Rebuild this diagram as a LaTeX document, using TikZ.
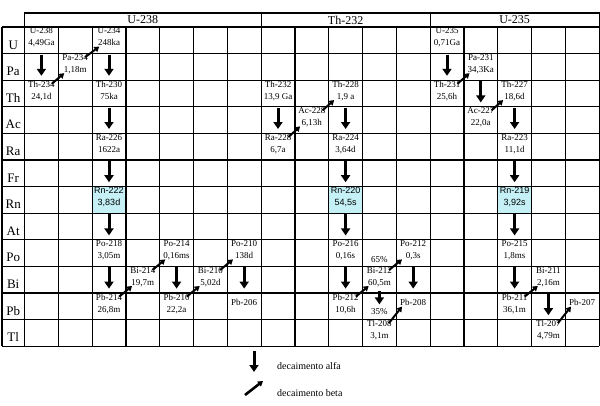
\documentclass[tikz,border=0pt]{standalone}
\usepackage{fontspec}
\setmainfont{Liberation Serif}
\newfontfamily\rnfont{Liberation Sans}
\usetikzlibrary{arrows.meta}
\definecolor{rnfill}{RGB}{196,240,246}

\begin{document}
\begin{tikzpicture}[x=1pt,y=-1pt,
	gridline/.style={line width=1.2pt},
	iso/.style={font=\fontsize{9}{12}\selectfont, align=center, inner sep=0pt, anchor=north, execute at begin node=\strut, execute at end node=\strut},
	rn/.style={iso, font=\rnfont\fontsize{9}{12}\selectfont},
	elem/.style={font=\fontsize{13}{15}\selectfont, anchor=base, inner sep=0pt},
	head/.style={font=\fontsize{12}{14}\selectfont, inner sep=0pt},
	adecay/.style={line width=3pt, -{Triangle[length=7pt,width=9pt]}, shorten <=5pt, shorten >=5pt},
	bdecay/.style={line width=2pt, -{Triangle[length=5pt,width=6pt]}},
	legtext/.style={font=\fontsize{10}{12}\selectfont, anchor=west, inner sep=0pt}]
		\useasboundingbox (0,0) rectangle (600,405);

		% radon cells
		\fill[rnfill] (92.1,186.6) rectangle (125.9,213.2);
		\fill[rnfill] (328.7,186.6) rectangle (362.5,213.2);
		\fill[rnfill] (497.7,186.6) rectangle (531.5,213.2);

		% table
		\foreach \i in {0,...,17}
			\draw[gridline] ({24.5+33.8*\i},27) -- ({24.5+33.8*\i},346.2);
		\foreach \j in {0,...,12}
			\draw[gridline] (2,{27+26.6*\j}) -- (599.1,{27+26.6*\j});
		\draw[gridline] (2,27) -- (2,346.2);
		\draw[gridline] (24.5,27) -- (24.5,13) -- (599.1,13) -- (599.1,27);
		\draw[gridline] (261.1,13) -- (261.1,27);
		\draw[gridline] (430.1,13) -- (430.1,27);

		\node[head] (hU238) at (142.8,20) {U-238};
		\node[head] (hTh232) at (345.6,20) {Th-232};
		\node[head] (hU235) at (514.6,20) {U-235};

		\node[elem] (eU) at (13.2,49) {U};
		\node[elem] (ePa) at (13.2,75.6) {Pa};
		\node[elem] (eTh) at (13.2,102.2) {Th};
		\node[elem] (eAc) at (13.2,128.8) {Ac};
		\node[elem] (eRa) at (13.2,155.4) {Ra};
		\node[elem] (eFr) at (13.2,182) {Fr};
		\node[elem] (eRn) at (13.2,208.6) {Rn};
		\node[elem] (eAt) at (13.2,235.2) {At};
		\node[elem] (ePo) at (13.2,261.8) {Po};
		\node[elem] (eBi) at (13.2,288.4) {Bi};
		\node[elem] (ePb) at (13.2,315) {Pb};
		\node[elem] (eTl) at (13.2,341.6) {Tl};

		% U-238 series
		\node[iso] (U238) at (41.4,27.6) {U-238\\4,49Ga};
		\node[iso] (Th234) at (41.4,80.8) {Th-234\\24,1d};
		\node[iso] (Pa234) at (75.2,54.2) {Pa-234\\1,18m};
		\node[iso] (U234) at (109,27.6) {U-234\\248ka};
		\node[iso] (Th230) at (109,80.8) {Th-230\\75ka};
		\node[iso] (Ra226) at (109,134) {Ra-226\\1622a};
		\node[rn] (Rn222) at (109,187.2) {Rn-222\\3,83d};
		\node[iso] (Po218) at (109,240.4) {Po-218\\3,05m};
		\node[iso] (Pb214) at (109,293.6) {Pb-214\\26,8m};
		\node[iso] (Bi214) at (142.8,267) {Bi-214\\19,7m};
		\node[iso] (Po214) at (176.6,240.4) {Po-214\\0,16ms};
		\node[iso] (Pb210) at (176.6,293.6) {Pb-210\\22,2a};
		\node[iso] (Bi210) at (210.4,267) {Bi-210\\5,02d};
		\node[iso] (Po210) at (244.2,240.4) {Po-210\\138d};
		\node[iso] (Pb206) at (244.2,293.6) {\\Pb-206};

		% Th-232 series
		\node[iso] (Th232) at (278,80.8) {Th-232\\13,9 Ga};
		\node[iso] (Ra228) at (278,134) {Ra-228\\6,7a};
		\node[iso] (Ac228) at (311.8,107.4) {Ac-228\\6,13h};
		\node[iso] (Th228) at (345.6,80.8) {Th-228\\1,9 a};
		\node[iso] (Ra224) at (345.6,134) {Ra-224\\3,64d};
		\node[rn] (Rn220) at (345.6,187.2) {Rn-220\\54,5s};
		\node[iso] (Po216) at (345.6,240.4) {Po-216\\0,16s};
		\node[iso] (Pb212) at (345.6,293.6) {Pb-212\\10,6h};
		\node[iso] (Bi212) at (379.4,267) {Bi-212\\60,5m};
		\node[iso] (Po212) at (413.2,240.4) {Po-212\\0,3s};
		\node[iso] (Tl208) at (379.4,320.2) {Tl-208\\3,1m};
		\node[iso] (Pb208) at (413.2,293.6) {\\Pb-208};
		\node[iso, anchor=base] (p65) at (379.4,262.5) {65\%};
		\node[iso, anchor=base] (p35) at (379.4,314) {35\%};

		% U-235 series
		\node[iso] (U235) at (447,27.6) {U-235\\0,71Ga};
		\node[iso] (Th231) at (447,80.8) {Th-231\\25,6h};
		\node[iso] (Pa231) at (480.8,54.2) {Pa-231\\34,3Ka};
		\node[iso] (Ac227) at (480.8,107.4) {Ac-227\\22,0a};
		\node[iso] (Th227) at (514.6,80.8) {Th-227\\18,6d};
		\node[iso] (Ra223) at (514.6,134) {Ra-223\\11,1d};
		\node[rn] (Rn219) at (514.6,187.2) {Rn-219\\3,92s};
		\node[iso] (Po215) at (514.6,240.4) {Po-215\\1,8ms};
		\node[iso] (Pb211) at (514.6,293.6) {Pb-211\\36,1m};
		\node[iso] (Bi211) at (548.4,267) {Bi-211\\2,16m};
		\node[iso] (Tl207) at (548.4,320.2) {Tl-207\\4,79m};
		\node[iso] (Pb207) at (582.2,293.6) {\\Pb-207};

		% alpha
		\draw[adecay] (U238.south) -- (Th234.north);
		\draw[adecay] (U234.south) -- (Th230.north);
		\draw[adecay] (Th230.south) -- (Ra226.north);
		\draw[adecay] (Ra226.south) -- (Rn222.north);
		\draw[adecay] (Rn222.south) -- (Po218.north);
		\draw[adecay] (Po218.south) -- (Pb214.north);
		\draw[adecay] (Po214.south) -- (Pb210.north);
		\draw[adecay] (Po210.south) -- (Pb206.north);
		\draw[adecay] (Th232.south) -- (Ra228.north);
		\draw[adecay] (Th228.south) -- (Ra224.north);
		\draw[adecay] (Ra224.south) -- (Rn220.north);
		\draw[adecay] (Rn220.south) -- (Po216.north);
		\draw[adecay] (Po216.south) -- (Pb212.north);
		\draw[adecay] (Po212.south) -- (Pb208.north);
		\draw[adecay, shorten <=2pt, shorten >=1pt] (Bi212.south) -- (p35.north);
		\draw[adecay] (U235.south) -- (Th231.north);
		\draw[adecay] (Pa231.south) -- (Ac227.north);
		\draw[adecay] (Th227.south) -- (Ra223.north);
		\draw[adecay] (Ra223.south) -- (Rn219.north);
		\draw[adecay] (Rn219.south) -- (Po215.north);
		\draw[adecay] (Po215.south) -- (Pb211.north);
		\draw[adecay] (Bi211.south) -- (Tl207.north);

		% beta
		\draw[bdecay] ([shift={(-3,3)}]Th234.north east) -- ([shift={(2,-3)}]Pa234.south west);
		\draw[bdecay] ([shift={(-3,3)}]Pa234.north east) -- ([shift={(2,-3)}]U234.south west);
		\draw[bdecay] ([shift={(-3,3)}]Pb214.north east) -- ([shift={(2,-3)}]Bi214.south west);
		\draw[bdecay] ([shift={(-3,3)}]Bi214.north east) -- ([shift={(2,-3)}]Po214.south west);
		\draw[bdecay] ([shift={(-3,3)}]Pb210.north east) -- ([shift={(2,-3)}]Bi210.south west);
		\draw[bdecay] ([shift={(-3,3)}]Bi210.north east) -- ([shift={(2,-3)}]Po210.south west);
		\draw[bdecay] ([shift={(-3,3)}]Ra228.north east) -- ([shift={(2,-3)}]Ac228.south west);
		\draw[bdecay] ([shift={(-3,3)}]Ac228.north east) -- ([shift={(2,-3)}]Th228.south west);
		\draw[bdecay] ([shift={(-3,3)}]Pb212.north east) -- ([shift={(2,-3)}]Bi212.south west);
		\draw[bdecay] ([shift={(-3,3)}]Bi212.north east) -- ([shift={(2,-3)}]Po212.south west);
		\draw[bdecay] ([shift={(-3,3)}]Tl208.north east) -- ([shift={(2,-3)}]Pb208.south west);
		\draw[bdecay] ([shift={(-3,3)}]Th231.north east) -- ([shift={(2,-3)}]Pa231.south west);
		\draw[bdecay] ([shift={(-3,3)}]Ac227.north east) -- ([shift={(2,-3)}]Th227.south west);
		\draw[bdecay] ([shift={(-3,3)}]Pb211.north east) -- ([shift={(2,-3)}]Bi211.south west);
		\draw[bdecay] ([shift={(-3,3)}]Tl207.north east) -- ([shift={(2,-3)}]Pb207.south west);

		% legend
		\coordinate (la1) at (254,351);
		\coordinate (la2) at (254,372);
		\coordinate (lb1) at (245,395);
		\coordinate (lb2) at (263,381);
		\draw[adecay, shorten <=0pt, shorten >=0pt] (la1) -- (la2);
		\draw[bdecay, line width=2.6pt] (lb1) -- (lb2);
		\node[legtext] (lalfa) at (277,366) {decaimento alfa};
		\node[legtext] (lbeta) at (277,392.6) {decaimento beta};
	\end{tikzpicture}
\end{document}
